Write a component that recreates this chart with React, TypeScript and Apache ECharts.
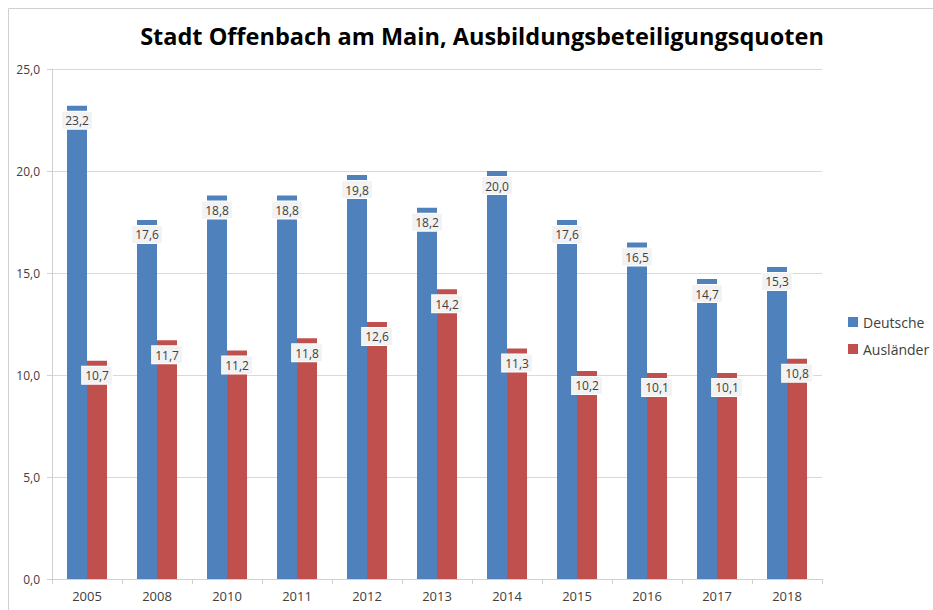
import React, { useEffect, useRef } from "react";
import * as echarts from "echarts";

const years = ["2005", "2008", "2010", "2011", "2012", "2013", "2014", "2015", "2016", "2017", "2018"];
const deutsche = [23.2, 17.6, 18.8, 18.8, 19.8, 18.2, 20.0, 17.6, 16.5, 14.7, 15.3];
const auslaender = [10.7, 11.7, 11.2, 11.8, 12.6, 14.2, 11.3, 10.2, 10.1, 10.1, 10.8];
const title = "Stadt Offenbach am Main, Ausbildungsbeteiligungsquoten";

const fmt = (v: number) => v.toFixed(1).replace(".", ",");

export default function App() {
  const ref = useRef<HTMLDivElement>(null);
  useEffect(() => {
    const chart = echarts.init(ref.current!, undefined, { renderer: "svg" });
    const label = {
      show: true,
      position: "insideTop" as const,
      distance: 6,
      formatter: (p: any) => fmt(p.value),
      color: "#404040",
      fontSize: 12,
      fontFamily: "Open Sans",
      backgroundColor: "#f2f2f2",
      borderColor: "#ffffff",
      borderWidth: 1,
      padding: [3, 3, 2, 3],
    };
    chart.setOption({
      animation: false,
      backgroundColor: "#ffffff",
      textStyle: { fontFamily: "Open Sans" },
      title: {
        text: title,
        left: 477,
        textAlign: "center",
        top: 19,
        textStyle: { fontSize: 23.5, fontWeight: "bold", color: "#000000", fontFamily: "Open Sans" },
      },
      graphic: [
        {
          type: "rect",
          shape: { x: 8.5, y: 8.5, width: 940, height: 620 },
          style: { fill: "none", stroke: "#d0d0d0", lineWidth: 1 },
          silent: true,
        },
      ],
      legend: {
        orient: "vertical",
        left: 843,
        top: 310,
        itemWidth: 10,
        itemHeight: 10,
        itemGap: 13,
        icon: "rect",
        textStyle: { fontSize: 14, color: "#404040", fontFamily: "Open Sans" },
        data: ["Deutsche", "Ausländer"],
      },
      grid: { left: 52, right: 111, top: 69, bottom: 31 },
      xAxis: {
        type: "category",
        data: years,
        axisLine: { lineStyle: { color: "#d0d0d0" } },
        axisTick: { show: true, length: 5, lineStyle: { color: "#d0d0d0" } },
        axisLabel: { color: "#404040", fontSize: 13, margin: 10, fontFamily: "Open Sans" },
      },
      yAxis: {
        type: "value",
        min: 0,
        max: 25,
        interval: 5,
        axisLine: { show: true, lineStyle: { color: "#d0d0d0" } },
        axisTick: { show: true, length: 5, lineStyle: { color: "#d0d0d0" } },
        splitLine: { lineStyle: { color: "#d9d9d9" } },
        axisLabel: { color: "#404040", fontSize: 12, margin: 12, formatter: (v: number) => fmt(v), fontFamily: "Open Sans" },
      },
      series: [
        {
          name: "Deutsche",
          type: "bar",
          data: deutsche,
          barWidth: 20,
          barGap: "0%",
          itemStyle: { color: "#4F81BD" },
          label,
        },
        {
          name: "Ausländer",
          type: "bar",
          data: auslaender,
          barWidth: 20,
          itemStyle: { color: "#C0504D" },
          label,
        },
      ],
    });
    return () => chart.dispose();
  }, []);
  return <div ref={ref} style={{ position: "absolute", left: 0, top: 0, width: 933, height: 610 }} />;
}
